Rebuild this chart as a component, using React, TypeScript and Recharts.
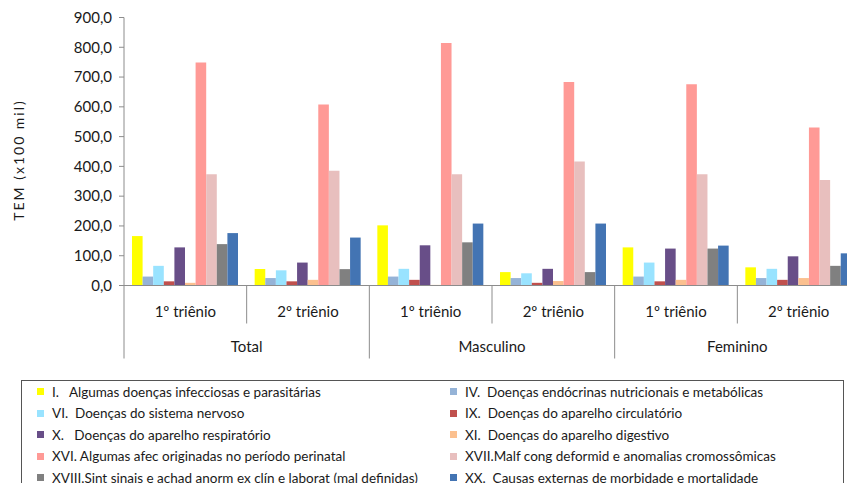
import { BarChart, Bar, XAxis, YAxis } from "recharts";

const CATEGORIES = ["1º triênio", "2º triênio", "1º triênio", "2º triênio", "1º triênio", "2º triênio"];
const GROUPS = ["Total", "Masculino", "Feminino"];
const Y_TICKS = [0, 100, 200, 300, 400, 500, 600, 700, 800, 900];

// order: Total 1º, Total 2º, Masc 1º, Masc 2º, Fem 1º, Fem 2º
const capI = [166, 55, 202, 45, 128, 61];
const capIV = [30, 25, 30, 25, 30, 25];
const capVI = [66, 51, 56, 41, 77, 56];
const capIX = [14, 14, 19, 9, 14, 19];
const capX = [128, 77, 135, 56, 124, 98];
const capXI = [9, 19, 2, 15, 19, 25];
const capXVI = [749, 608, 814, 683, 676, 531];
const capXVII = [374, 385, 374, 416, 374, 354];
const capXVIII = [139, 55, 145, 45, 124, 66];
const capXX = [176, 161, 208, 208, 134, 108];

const SERIES = [
  { key: "I", name: "I.   Algumas doenças infecciosas e parasitárias", color: "#FFFF00", values: capI },
  { key: "IV", name: "IV.  Doenças endócrinas nutricionais e metabólicas", color: "#95B3D7", values: capIV },
  { key: "VI", name: "VI.  Doenças do sistema nervoso", color: "#99E3FF", values: capVI },
  { key: "IX", name: "IX.  Doenças do aparelho circulatório", color: "#C0504D", values: capIX },
  { key: "X", name: "X.   Doenças do aparelho respiratório", color: "#684E88", values: capX },
  { key: "XI", name: "XI.  Doenças do aparelho digestivo", color: "#FBC08F", values: capXI },
  { key: "XVI", name: "XVI. Algumas afec originadas no período perinatal", color: "#FF9A96", values: capXVI },
  { key: "XVII", name: "XVII.Malf cong deformid e anomalias cromossômicas", color: "#E8BFBE", values: capXVII },
  { key: "XVIII", name: "XVIII.Sint sinais e achad anorm ex clín e laborat (mal definidas)", color: "#808080", values: capXVIII },
  { key: "XX", name: "XX.  Causas externas de morbidade e mortalidade", color: "#4374B3", values: capXX },
];

const data = CATEGORIES.map((label, i) => {
  const row: Record<string, any> = { label };
  SERIES.forEach((s) => (row[s.key] = s.values[i]));
  return row;
});

const FONT = "Lato, 'Open Sans', sans-serif";
const AXIS = "#8C8C8C";

const fmt = (v: number) => v.toFixed(1).replace(".", ",");

const XTick = (props: any) => {
  const { x, y, payload, index } = props;
  const half = payload?.offset ?? 61.33;
  const left = x - half;
  const even = index % 2 === 0;
  return (
    <g>
      <line x1={left} y1={y} x2={left} y2={y + (even ? 73 : 38)} stroke={AXIS} />
      {index === CATEGORIES.length - 1 && (
        <line x1={x + half} y1={y} x2={x + half} y2={y + 73} stroke={AXIS} />
      )}
      <text x={x} y={y + 25} textAnchor="middle" dominantBaseline="central" fontSize={15} fill="#1a1a1a" fontFamily={FONT}>
        {payload.value}
      </text>
      {even && (
        <text x={x + half} y={y + 60} textAnchor="middle" dominantBaseline="central" fontSize={15} fill="#1a1a1a" fontFamily={FONT}>
          {GROUPS[Math.floor(index / 2)]}
        </text>
      )}
    </g>
  );
};

const leftCol = SERIES.filter((_, i) => i % 2 === 0);
const rightCol = SERIES.filter((_, i) => i % 2 === 1);

const LegendItem = ({ s, top, left }: { s: (typeof SERIES)[number]; top: number; left: number }) => (
  <div style={{ position: "absolute", top, left, display: "flex", alignItems: "center", height: 16 }}>
    <span style={{ width: 7, height: 7, background: s.color, marginRight: 8 }} />
    <span style={{ fontSize: 13.5, lineHeight: "16px", color: "#1a1a1a", whiteSpace: "pre" }}>{s.name}</span>
  </div>
);

export default function App() {
  return (
    <div
      style={{
        position: "relative",
        width: 855,
        height: 491,
        margin: -8,
        overflow: "hidden",
        background: "#fff",
        fontFamily: FONT,
      }}
    >
      <BarChart
        width={860}
        height={370}
        data={data}
        margin={{ top: 17.5, right: 0, bottom: 0, left: 0 }}
        barGap={0}
      >
        <XAxis
          dataKey="label"
          height={84.5}
          tickLine={false}
          tickSize={0}
          tickMargin={0}
          interval={0}
          stroke={AXIS}
          tick={<XTick />}
        />
        <YAxis
          width={124}
          domain={[0, 900]}
          ticks={Y_TICKS}
          interval={0}
          tickFormatter={fmt}
          tickSize={5}
          tickMargin={7}
          stroke={AXIS}
          tick={{ fontSize: 15, fill: "#1a1a1a", fontFamily: FONT }}
        />
        {SERIES.map((s) => (
          <Bar key={s.key} dataKey={s.key} name={s.name} fill={s.color} barSize={10.6} isAnimationActive={false} />
        ))}
      </BarChart>

      <div
        style={{
          position: "absolute",
          left: 18,
          top: 160,
          transform: "translate(-50%, -50%) rotate(-90deg)",
          fontSize: 14,
          letterSpacing: 2,
          whiteSpace: "nowrap",
          color: "#1a1a1a",
        }}
      >
        TEM (x100 mil)
      </div>

      <div
        style={{
          position: "absolute",
          left: 21,
          top: 380,
          width: 821,
          height: 130,
          border: "1px solid #555",
        }}
      />
      {leftCol.map((s, i) => (
        <LegendItem key={s.key} s={s} top={383.5 + i * 21.5} left={37} />
      ))}
      {rightCol.map((s, i) => (
        <LegendItem key={s.key} s={s} top={383.5 + i * 21.5} left={450} />
      ))}
    </div>
  );
}
